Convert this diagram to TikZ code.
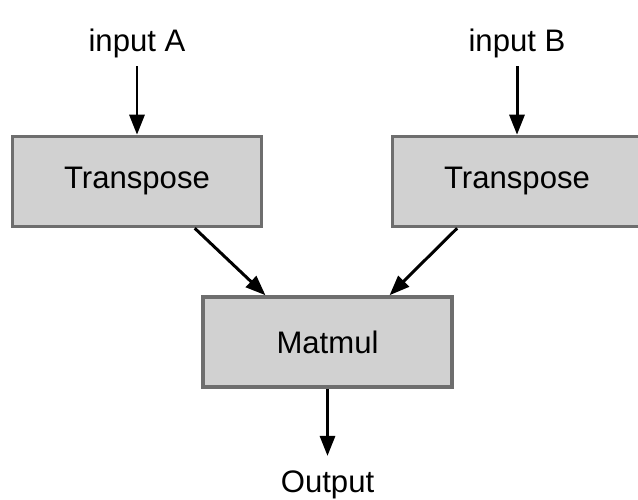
\documentclass[tikz,border=0pt]{standalone}
\usepackage{fontspec}
\setmainfont{Liberation Sans}
\usetikzlibrary{arrows.meta}
\definecolor{boxfill}{gray}{0.82}
\definecolor{boxline}{gray}{0.43}
\begin{document}
\begin{tikzpicture}[nodes={font=\fontsize{17.7}{21}\selectfont},
    box/.style={draw=boxline,fill=boxfill,line width=2pt,minimum width=4.98cm,minimum height=1.8cm},
    lbl/.style={anchor=base,inner sep=0.15cm},
    arr/.style={line width=1.7pt,-{Triangle[length=0.4cm,width=0.3cm]}}]

      \useasboundingbox (0,0) rectangle (12.76,10);

      \node[lbl] (inA) at (2.74,8.96) {input A};
      \node[lbl] (inB) at (10.34,8.96) {input B};
      \node[box] (tA) at (2.74,6.37) {Transpose};
      \node[box] (tB) at (10.34,6.37) {Transpose};
      \node[box] (mm) at (6.55,3.16) {Matmul};
      \node[lbl,inner sep=0.3cm] (out) at (6.55,0.14) {Output};

      \draw[arr] (inA) -- (tA);
      \draw[arr] (inB) -- (tB);
      \draw[arr] (tA.-39) -- (mm.143);
      \draw[arr] (tB.218) -- (mm.37);
      \draw[arr] (mm) -- (out);

    \end{tikzpicture}
\end{document}
